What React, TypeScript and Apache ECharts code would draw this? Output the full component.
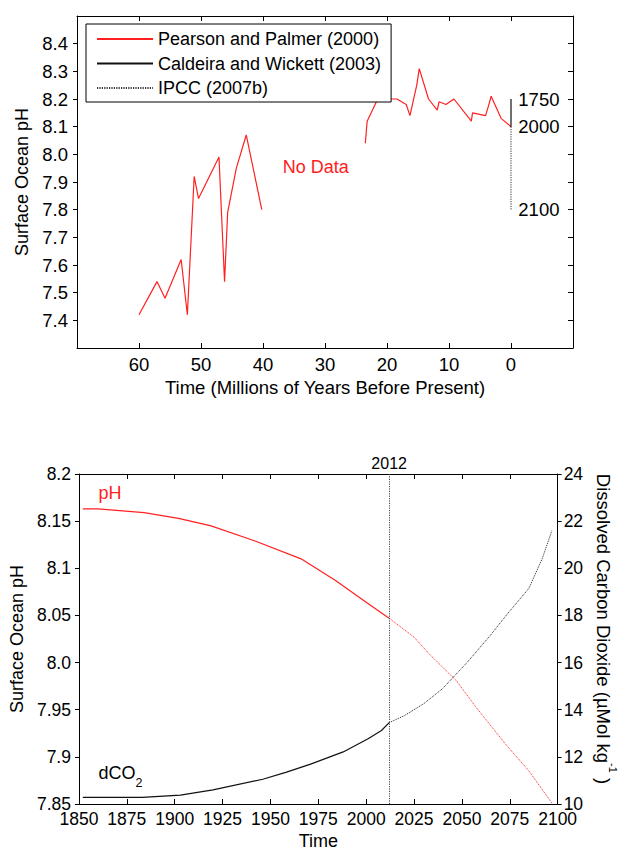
import React, { useEffect, useRef } from 'react';
import * as echarts from 'echarts';

const FONT = '"Liberation Sans", Arial, Helvetica, sans-serif';
const RED = '#ff2020';

// ---------- Top panel: Surface Ocean pH over the last 60 Myr ----------
const legendNames = ['Pearson and Palmer (2000)', 'Caldeira and Wickett (2003)', 'IPCC (2007b)'];

// Pearson & Palmer (2000), older segment [Myr BP, pH]
const pearsonOld: [number, number][] = [
  [60, 7.42], [57.1, 7.54], [55.8, 7.48], [53.2, 7.62], [52.2, 7.42], [51.1, 7.92],
  [50.4, 7.84], [47.1, 7.99], [46.2, 7.54], [45.7, 7.79], [44.3, 7.95], [42.7, 8.07], [40.2, 7.8],
];
// Pearson & Palmer (2000), recent segment
const pearsonRecent: [number, number][] = [
  [23.5, 8.04], [23.2, 8.12], [21.5, 8.2], [18.4, 8.2], [16.9, 8.18], [16.3, 8.14],
  [15.2, 8.25], [14.8, 8.31], [13.3, 8.2], [11.9, 8.16], [11.6, 8.19], [10.5, 8.18],
  [9.2, 8.2], [6.4, 8.12], [6.2, 8.15], [4.1, 8.14], [3.7, 8.17], [3.2, 8.21], [1.6, 8.13], [0, 8.1],
];
const caldeira: [number, number][] = [[0, 8.2], [0, 8.1]];
const ipcc: [number, number][] = [[0, 8.1], [0, 7.8]];
const yearNotes: [number, number, string][] = [[-1.1, 8.2, '1750'], [-1.1, 8.1, '2000'], [-1.1, 7.8, '2100']];
const noDataNote: [number, number, string][] = [[36.9, 7.955, 'No Data']];

const topX = { min: -10, max: 70, interval: 10 };
const topY = { min: 7.3, max: 8.5, interval: 0.1 };

// ---------- Bottom panel: pH and dissolved CO2, 1850-2100 ----------
const phObsYears = [1852, 1860, 1884, 1902, 1919, 1942, 1966, 1984, 2000, 2012];
const phObs = [8.163, 8.163, 8.159, 8.153, 8.145, 8.129, 8.11, 8.087, 8.064, 8.047];
const phProjYears = [2012, 2025, 2033, 2047, 2058, 2073, 2085, 2097];
const phProj = [8.047, 8.027, 8.009, 7.981, 7.951, 7.913, 7.885, 7.851];

const co2ObsYears = [1852, 1883, 1903, 1920, 1946, 1958, 1971, 1988, 2001, 2008, 2012];
const co2Obs = [10.28, 10.28, 10.38, 10.6, 11.05, 11.34, 11.69, 12.21, 12.77, 13.12, 13.45];
const co2ProjYears = [2012, 2020, 2030, 2040, 2053, 2065, 2074, 2085, 2092, 2097];
const co2Proj = [13.45, 13.75, 14.25, 14.9, 16.03, 17.17, 18.09, 19.15, 20.42, 21.6];

const markerYear = 2012;
const phNote: [number, number, string][] = [[1860, 8.18, 'pH']];
const co2Note: [number, number, string][] = [[1860, 7.879, 'dCO2']];

const botX = { min: 1850, max: 2100, interval: 25 };
const botYL = { min: 7.85, max: 8.2, interval: 0.05 };
const botYR = { min: 10, max: 24, interval: 2 };

const zip = (xs: number[], ys: number[]) => xs.map((x, i) => [x, ys[i]]);

const fmtPH = (v: number) => {
  const r = Math.round(v * 100) / 100;
  let s = String(r);
  if (!s.includes('.')) s += '.0';
  return s;
};

const axisLine = { show: true, onZero: false, lineStyle: { color: '#000', width: 1 } };
const hiddenMark = { color: 'rgba(0,0,0,0)', opacity: 1 };

export default function App() {
  const ref = useRef<HTMLDivElement>(null);
  useEffect(() => {
    if (!ref.current) return;
    const chart = echarts.init(ref.current, undefined, { renderer: 'svg' });
    const tickFontTop = 18.5;
    const tickFontBot = 17.5;
    const option: any = {
      animation: false,
      backgroundColor: '#fff',
      textStyle: { fontFamily: FONT, color: '#000' },
      grid: [
        { left: 77, top: 16, width: 496, height: 332 },
        { left: 77, top: 474, width: 496, height: 332 },
      ],
      legend: {
        data: legendNames,
        orient: 'vertical',
        left: 86,
        top: 24,
        itemWidth: 56,
        itemHeight: 10,
        itemGap: 4.5,
        padding: [5, 10, 4, 10],
        borderColor: '#000',
        borderWidth: 1,
        borderRadius: 0,
        backgroundColor: '#fff',
        itemStyle: { color: 'rgba(0,0,0,0)', borderColor: 'rgba(0,0,0,0)', borderWidth: 0 },
        textStyle: { fontFamily: FONT, fontSize: 18, color: '#000', lineHeight: 20 },
        selectedMode: false,
      },
      xAxis: [
        {
          gridIndex: 0, type: 'value', ...topX, inverse: true, position: 'bottom',
          axisLine, axisTick: { inside: true, length: 5, lineStyle: { color: '#000' } },
          axisLabel: { fontSize: tickFontTop, color: '#000', margin: 7, showMinLabel: false, showMaxLabel: false,
            formatter: (v: number) => String(Math.round(v)) },
          splitLine: { show: false },
          name: 'Time (Millions of Years Before Present)', nameLocation: 'middle', nameGap: 30,
          nameTextStyle: { fontSize: 18.5, color: '#000' },
        },
        {
          gridIndex: 0, type: 'value', ...topX, inverse: true, position: 'top',
          axisLine, axisTick: { inside: true, length: 5, lineStyle: { color: '#000' } },
          axisLabel: { show: false }, splitLine: { show: false },
        },
        {
          gridIndex: 1, type: 'value', ...botX, position: 'bottom',
          axisLine, axisTick: { inside: true, length: 5, lineStyle: { color: '#000' } },
          axisLabel: { fontSize: tickFontBot, color: '#000', margin: 6, formatter: (v: number) => String(v) },
          splitLine: { show: false },
          name: 'Time', nameLocation: 'middle', nameGap: 28,
          nameTextStyle: { fontSize: 18, color: '#000' },
        },
        {
          gridIndex: 1, type: 'value', ...botX, position: 'top',
          axisLine, axisTick: { inside: true, length: 5, lineStyle: { color: '#000' } },
          axisLabel: { show: false }, splitLine: { show: false },
        },
      ],
      yAxis: [
        {
          gridIndex: 0, type: 'value', ...topY, position: 'left',
          axisLine, axisTick: { inside: false, length: 4, lineStyle: { color: '#000' } },
          axisLabel: { fontSize: tickFontTop, color: '#000', margin: 9, showMinLabel: false, showMaxLabel: false,
            formatter: (v: number) => v.toFixed(1) },
          splitLine: { show: false },
          name: 'Surface Ocean pH', nameLocation: 'middle', nameGap: 40, nameRotate: 90,
          nameTextStyle: { fontSize: 18, color: '#000' },
        },
        {
          gridIndex: 0, type: 'value', ...topY, position: 'right',
          axisLine, axisTick: { inside: true, length: 5, lineStyle: { color: '#000' } },
          axisLabel: { show: false }, splitLine: { show: false },
        },
        {
          gridIndex: 1, type: 'value', ...botYL, position: 'left',
          axisLine, axisTick: { inside: false, length: 4, lineStyle: { color: '#000' } },
          axisLabel: { fontSize: tickFontBot, color: '#000', margin: 8, formatter: fmtPH },
          splitLine: { show: false },
          name: 'Surface Ocean pH', nameLocation: 'middle', nameGap: 52, nameRotate: 90,
          nameTextStyle: { fontSize: 18, color: '#000' },
        },
        {
          gridIndex: 1, type: 'value', ...botYR, position: 'right',
          axisLine, axisTick: { inside: false, length: 4, lineStyle: { color: '#000' } },
          axisLabel: { fontSize: tickFontBot, color: '#000', margin: 6 },
          splitLine: { show: false },
          name: '{a|Dissolved Carbon Dioxide (µMol kg}{s|-1}{a| )}',
          nameLocation: 'middle', nameGap: 29, nameRotate: -90,
          nameTextStyle: {
            color: '#000',
            padding: [0, 20, 0, 0],
            rich: {
              a: { fontSize: 18.5, fontFamily: FONT, color: '#000', lineHeight: 24, verticalAlign: 'bottom' },
              s: { fontSize: 11, fontFamily: FONT, color: '#000', lineHeight: 12, verticalAlign: 'top' },
            },
          },
        },
      ],
      series: [
        {
          name: legendNames[0], type: 'line', xAxisIndex: 0, yAxisIndex: 0, data: pearsonOld,
          symbol: 'none', lineStyle: { color: RED, width: 1.2 }, itemStyle: { color: RED }, z: 2,
        },
        {
          name: legendNames[0], type: 'line', xAxisIndex: 0, yAxisIndex: 0, data: pearsonRecent,
          symbol: 'none', lineStyle: { color: RED, width: 1.2 }, itemStyle: { color: RED }, z: 2,
        },
        {
          name: legendNames[1], type: 'line', xAxisIndex: 0, yAxisIndex: 0, data: caldeira,
          symbol: 'none', lineStyle: { color: '#111', width: 1.2 }, itemStyle: { color: '#111' },
        },
        {
          name: legendNames[2], type: 'line', xAxisIndex: 0, yAxisIndex: 0, data: ipcc,
          symbol: 'none', lineStyle: { color: '#333', width: 1, type: [1.2, 1.2] }, itemStyle: { color: '#333' },
        },
        {
          name: 'yearNotes', type: 'scatter', xAxisIndex: 0, yAxisIndex: 0, data: yearNotes,
          symbolSize: 1, itemStyle: hiddenMark, silent: true,
          label: { show: true, position: 'right', distance: 0, fontSize: 18.5, color: '#000',
            formatter: (p: any) => p.data[2] },
        },
        {
          name: 'noData', type: 'scatter', xAxisIndex: 0, yAxisIndex: 0, data: noDataNote,
          symbolSize: 1, itemStyle: hiddenMark, silent: true,
          label: { show: true, position: 'right', distance: 0, fontSize: 18, color: RED,
            formatter: (p: any) => p.data[2] },
        },
        {
          name: 'pH observed', type: 'line', xAxisIndex: 2, yAxisIndex: 2, data: zip(phObsYears, phObs),
          symbol: 'none', lineStyle: { color: RED, width: 1.2 },
          markLine: {
            silent: true, symbol: ['none', 'none'], animation: false,
            lineStyle: { color: '#444', width: 1, type: [1.2, 1.2] },
            label: { show: true, position: 'end', formatter: String(markerYear), fontSize: 16, color: '#000', distance: 3, fontFamily: FONT },
            data: [{ xAxis: markerYear }],
          },
        },
        {
          name: 'pH projected', type: 'line', xAxisIndex: 2, yAxisIndex: 2, data: zip(phProjYears, phProj),
          symbol: 'none', lineStyle: { color: RED, width: 1, type: [1, 1] },
        },
        {
          name: 'dCO2 observed', type: 'line', xAxisIndex: 2, yAxisIndex: 3, data: zip(co2ObsYears, co2Obs),
          symbol: 'none', lineStyle: { color: '#111', width: 1.2 },
        },
        {
          name: 'dCO2 projected', type: 'line', xAxisIndex: 2, yAxisIndex: 3, data: zip(co2ProjYears, co2Proj),
          symbol: 'none', lineStyle: { color: '#222', width: 1, type: [1, 1] },
        },
        {
          name: 'phNote', type: 'scatter', xAxisIndex: 2, yAxisIndex: 2, data: phNote,
          symbolSize: 1, itemStyle: hiddenMark, silent: true,
          label: { show: true, position: 'right', distance: 0, fontSize: 18, color: RED,
            formatter: (p: any) => p.data[2] },
        },
        {
          name: 'co2Note', type: 'scatter', xAxisIndex: 2, yAxisIndex: 2, data: co2Note,
          symbolSize: 1, itemStyle: hiddenMark, silent: true,
          label: { show: true, position: 'right', distance: 0, color: '#000',
            formatter: () => '{a|dCO}{b|2}',
            rich: {
              a: { fontSize: 18, fontFamily: FONT, color: '#000', lineHeight: 26, verticalAlign: 'top' },
              b: { fontSize: 12.5, fontFamily: FONT, color: '#000', lineHeight: 12, verticalAlign: 'bottom' },
            },
          },
        },
      ],
    };
    chart.setOption(option);
    return () => chart.dispose();
  }, []);
  return <div ref={ref} style={{ position: 'absolute', left: 0, top: 0, width: 626, height: 851 }} />;
}
